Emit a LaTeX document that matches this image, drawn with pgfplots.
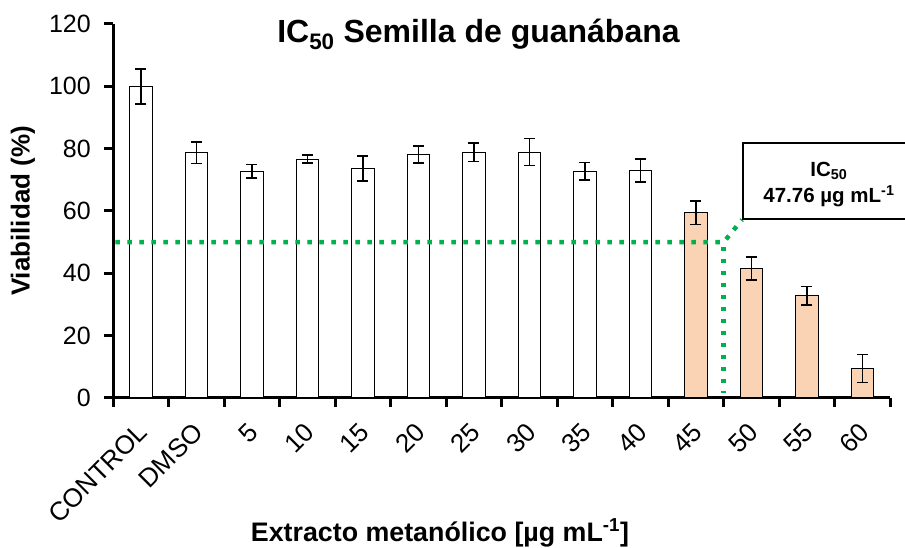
\documentclass[border=0pt]{standalone}
\usepackage{pgfplots}
\pgfplotsset{compat=1.18}
\usepackage{fontspec}
\setmainfont{Liberation Sans}
\definecolor{peach}{HTML}{F9D3B4}
\definecolor{icgreen}{HTML}{00B050}
\begin{document}
\begin{tikzpicture}
\begin{axis}[
  scale only axis, width=777pt, height=374pt,
  xmin=-0.5, xmax=13.5, ymin=0, ymax=120,
  clip=false,
  axis x line*=bottom, axis y line*=left,
  axis line style={line width=3pt, -},
  tick align=outside, major tick length=9pt,
  tick style={line width=3pt, black},
  ytick={0,20,...,120},
  /pgf/number format/assume math mode=true,
  yticklabel style={font=\fontsize{25}{30}\selectfont, xshift=-10pt},
  xtick={-0.5,0.5,...,13.5}, xticklabels={},
  extra x ticks={0,1,2,3,4,5,6,7,8,9,10,11,12,13},
  extra x tick labels={CONTROL,DMSO,5,10,15,20,25,30,35,40,45,50,55,60},
  extra x tick style={major tick length=0pt,
    xticklabel style={font=\fontsize{26}{30}\selectfont, inner sep=0pt, xshift=2pt, yshift=-30pt, rotate=45, anchor=east}},
]
\addplot[ybar, bar width=22.4pt, fill=white, draw=black, line width=1pt,
  error bars/.cd, y dir=both, y explicit,
  error bar style={line width=1.6pt, black},
  error mark options={rotate=90, mark size=5.5pt, line width=1.6pt, black}]
coordinates {
 (0,100.0) +- (0,5.6)
 (1,78.7) +- (0,3.5)
 (2,72.7) +- (0,2.2)
 (3,76.6) +- (0,1.3)
 (4,73.7) +- (0,4.0)
 (5,78.1) +- (0,2.7)
 (6,78.9) +- (0,3.0)
 (7,78.9) +- (0,4.3)
 (8,72.7) +- (0,2.8)
 (9,72.9) +- (0,3.7)
};
\addplot[ybar, bar width=22.4pt, fill=peach, draw=black, line width=1pt,
  error bars/.cd, y dir=both, y explicit,
  error bar style={line width=1.6pt, black},
  error mark options={rotate=90, mark size=5.5pt, line width=1.6pt, black}]
coordinates {
 (10,59.4) +- (0,3.7)
 (11,41.6) +- (0,3.7)
 (12,32.8) +- (0,3.0)
 (13,9.4) +- (0,4.5)
};
\addplot[icgreen, line width=4.5pt, dash pattern=on 4.5pt off 7.5pt, line cap=butt]
 coordinates {(-0.46,50) (10.5,50) (10.83,57.2)};
\addplot[icgreen, line width=4.5pt, dash pattern=on 4.5pt off 7.5pt, line cap=butt]
 coordinates {(10.5,48.5) (10.5,1.5)};
\fill[white] (axis cs:10.847,57.4) rectangle (axis cs:13.77,81.8);
\draw[line width=2pt] (axis cs:13.8,81.8) -- (axis cs:10.847,81.8) -- (axis cs:10.847,57.4) -- (axis cs:13.8,57.4);
\node[font=\bfseries\fontsize{20.5}{24}\selectfont, anchor=base] at (axis cs:12.396,71.1) {IC\textsubscript{50}};
\node[font=\bfseries\fontsize{20.5}{24}\selectfont, anchor=base] at (axis cs:12.396,62.6) {47.76 µg mL\textsuperscript{-1}};
\node[font=\bfseries\fontsize{32}{36}\selectfont, anchor=base] at (axis cs:6.081,114.2) {IC\textsubscript{50} Semilla de guanábana};
\node[font=\bfseries\fontsize{26}{30}\selectfont, rotate=90] at (axis cs:-2.126,60) {Viabilidad (\%)};
\node[font=\bfseries\fontsize{26.8}{30}\selectfont, anchor=base] at (axis cs:5.387,-45.9) {Extracto metanólico [µg mL\textsuperscript{-1}]};
\coordinate (BL) at (axis cs:-2.5405,-48.12);
\coordinate (TR) at (axis cs:13.766,127.69);
\end{axis}
\pgfresetboundingbox
\useasboundingbox (BL) rectangle (TR);
\end{tikzpicture}
\end{document}
